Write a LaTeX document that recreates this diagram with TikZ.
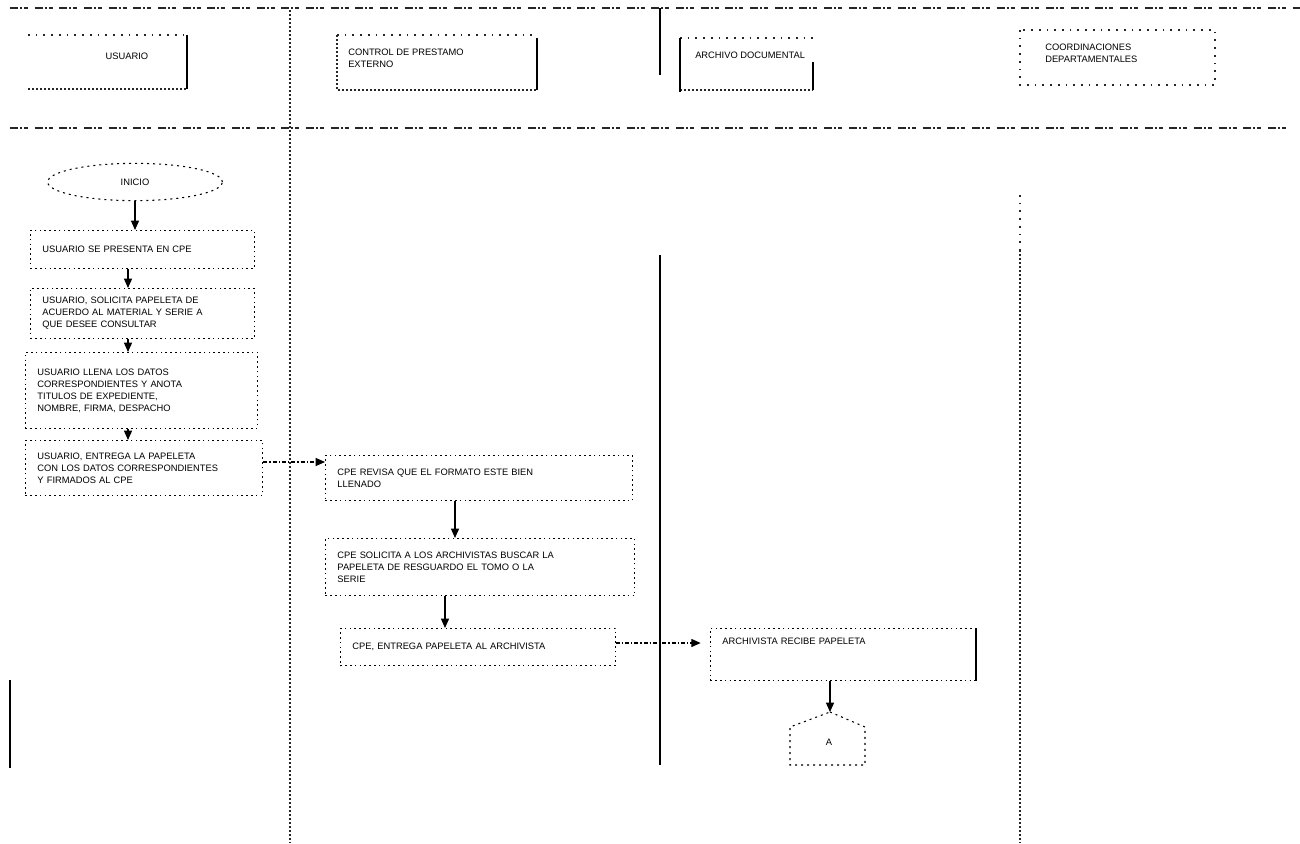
\documentclass[tikz,border=0pt]{standalone}
\usepackage{fontspec}
\setmainfont{Liberation Sans}
\usetikzlibrary{shapes.geometric,arrows.meta}
\begin{document}
\begin{tikzpicture}[x=0.75pt,y=-0.75pt,
  dotline/.style={line width=0.8pt, dash pattern=on 1.3pt off 1.7pt, black!85},
  sparse/.style={line width=0.8pt, dash pattern=on 1.3pt off 4.5pt, black!85},
  borderline/.style={line width=0.9pt, dash pattern=on 6pt off 1.5pt on 1.5pt off 1.5pt on 3pt off 5pt, black!85},
  solidedge/.style={line width=1.2pt, black},
  txt/.style={font=\fontsize{7}{9}\selectfont, align=left, inner sep=0pt},
  proc/.style={draw, line width=0.7pt, dash pattern=on 1.2pt off 2.4pt, rectangle,
    align=left, anchor=north west, inner xsep=9pt, inner ysep=2pt,
    font=\fontsize{7}{9}\selectfont},
  arr/.style={line width=1pt, -{Triangle[length=7pt,width=6pt]}},
  darr/.style={line width=0.8pt, dash pattern=on 3pt off 1.5pt on 1pt off 1.5pt, -{Triangle[length=7pt,width=6pt]}},
]
\useasboundingbox (0,0) rectangle (1300,843);

% ---- frame and lanes ----
\draw[borderline] (10,8) -- (1300,8);
\draw[borderline] (10,128) -- (1292,128);
\draw[dotline] (290,10) -- (290,843);
\draw[solidedge] (660,8) -- (660,75);
\draw[solidedge] (660,255) -- (660,765);
\draw[sparse] (1020,195) -- (1020,250);
\draw[dotline] (1020,250) -- (1020,843);
\draw[solidedge] (10,680) -- (10,768);

% ---- header boxes ----
\draw[sparse] (28,35) -- (187,35);
\draw[dotline] (28,89) -- (187,89);
\draw[solidedge] (187,35) -- (187,89);
\node[txt] (hUsr) at (127,56) {USUARIO};

\draw[sparse] (337,35) -- (537,35);
\draw[dotline] (337,35) -- (337,90) -- (537,90);
\draw[solidedge] (537,38) -- (537,90);
\node[txt, anchor=west] (hCtl) at (348,58) {CONTROL DE PRESTAMO\\EXTERNO};

\draw[sparse] (680,38) -- (813,38);
\draw[dotline] (680,90) -- (813,90);
\draw[solidedge] (680,38) -- (680,92);
\draw[solidedge] (813,62) -- (813,90);
\node[txt, anchor=west] (hArc) at (695,55) {ARCHIVO DOCUMENTAL};

\draw[sparse] (1020,30) rectangle (1215,85);
\node[txt, anchor=west] (hCoo) at (1045,53) {COORDINACIONES\\DEPARTAMENTALES};

% ---- flow nodes ----
\node[draw, ellipse, line width=0.8pt, dash pattern=on 1.5pt off 3pt,
      minimum width=131pt, minimum height=28pt, font=\fontsize{7}{9}\selectfont]
      (ini) at (135,182) {INICIO};

\node[proc, text width=150pt, minimum height=28.5pt] (usr1) at (30,230)
  {USUARIO SE PRESENTA EN CPE};
\node[proc, text width=150pt, minimum height=37.5pt] (usr2) at (30,288)
  {USUARIO, SOLICITA PAPELETA DE\\ACUERDO AL MATERIAL Y SERIE A\\QUE DESEE CONSULTAR};
\node[proc, text width=156pt, minimum height=57pt] (usr3) at (25,352)
  {USUARIO LLENA LOS DATOS\\CORRESPONDIENTES Y ANOTA\\TITULOS DE EXPEDIENTE,\\NOMBRE, FIRMA, DESPACHO};
\node[proc, text width=160pt, minimum height=41pt] (usr4) at (25,440)
  {USUARIO, ENTREGA LA PAPELETA\\CON LOS DATOS CORRESPONDIENTES\\Y FIRMADOS AL CPE};

\node[proc, text width=212pt, minimum height=34pt] (cep1) at (325,455)
  {CPE REVISA QUE EL FORMATO ESTE BIEN\\LLENADO};
\node[proc, text width=214pt, minimum height=43pt] (cep2) at (325,538)
  {CPE SOLICITA A LOS ARCHIVISTAS BUSCAR LA\\PAPELETA DE RESGUARDO EL TOMO O LA\\SERIE};
\node[proc, text width=188pt, minimum height=28pt] (cep3) at (340,628)
  {CPE, ENTREGA PAPELETA AL ARCHIVISTA};

\node[proc, text width=181pt, inner ysep=3pt, text height=9pt, text depth=24pt] (arc1) at (710,628)
  {ARCHIVISTA RECIBE PAPELETA};
\draw[solidedge] (arc1.north east) -- (arc1.south east);

% off-page connector
\coordinate (apex) at (830,712);
\draw[line width=0.8pt, dash pattern=on 1.5pt off 3pt]
  (apex) -- (865,727) -- (865,765) -- (790,765) -- (790,727) -- cycle;
\node[txt] (conA) at (829,742) {A};

% ---- connectors ----
\coordinate (laneA) at (128,0);
\coordinate (rowB) at (0,462);
\coordinate (colC) at (455,0);
\coordinate (colD) at (445,0);
\coordinate (colE) at (830,0);
\coordinate (rowF) at (0,643);

\draw[arr] (ini.south) -- (ini.south |- usr1.north);
\draw[arr] (usr1.south -| laneA) -- (usr2.north -| laneA);
\draw[arr] (usr2.south -| laneA) -- (usr3.north -| laneA);
\draw[arr] (usr3.south -| laneA) -- (usr4.north -| laneA);
\draw[darr] (usr4.east |- rowB) -- (cep1.west |- rowB);
\draw[arr] (cep1.south -| colC) -- (cep2.north -| colC);
\draw[arr] (cep2.south -| colD) -- (cep3.north -| colD);
\draw[darr] (cep3.east |- rowF) -- ([xshift=-7pt]arc1.west |- rowF);
\draw[arr] (arc1.south -| colE) -- (apex);
\end{tikzpicture}
\end{document}
